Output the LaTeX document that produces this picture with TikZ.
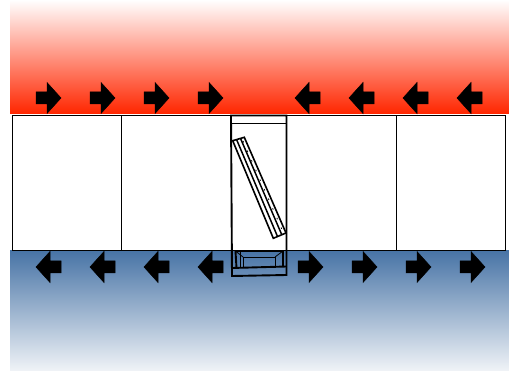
\documentclass[tikz,border=0pt]{standalone}
\definecolor{hotred}{RGB}{255,38,0}
\definecolor{coldblue}{RGB}{72,116,166}
\definecolor{coldpale}{RGB}{240,243,247}
\tikzset{
  wall/.style={draw=black,line width=0.8pt,fill=white},
  heavy/.style={draw=black,line width=1.9pt},
  mid part/.style={draw=black,line width=1.5pt},
  thin part/.style={draw=black,line width=0.8pt},
  flow/.style={fill=black,draw=black,line width=0.5pt,line join=miter},
}
\newcommand{\flowR}[2]{\filldraw[flow] (#1,#2-6) -- (#1+11,#2-6) -- (#1+11,#2-15.5) -- (#1+25,#2) -- (#1+11,#2+15.5) -- (#1+11,#2+6) -- (#1,#2+6) -- cycle;}
\newcommand{\flowL}[2]{\filldraw[flow] (#1,#2-6) -- (#1-11,#2-6) -- (#1-11,#2-15.5) -- (#1-25,#2) -- (#1-11,#2+15.5) -- (#1-11,#2+6) -- (#1,#2+6) -- cycle;}
\begin{document}
\begin{tikzpicture}[x=1pt,y=-1pt]
\useasboundingbox[fill=white] (0,0) rectangle (509,371);
% warm and cold sides
\shade[top color=white,bottom color=hotred] (10,0) rectangle (509,113.5);
\shade[top color=coldblue,bottom color=coldpale] (10,251) rectangle (509,371);
% wall
\draw[wall] (12,115.5) rectangle (505.5,250.5);
\draw[thin part] (121.5,115.5) -- (121.5,250.5);
\draw[thin part] (396,115.5) -- (396,250.5);
% arrows
\foreach \x in {36,90,144,198} {\flowR{\x}{98}\flowL{\x+25}{267}}
\foreach \x in {295,349,403,457} {\flowL{\x+25}{98}}
\foreach \x in {298,352,406,460} {\flowR{\x}{267}}
% central unit
\draw[heavy] (231,115.5) -- (232,276) -- (286.5,275) -- (286.5,115.5) -- cycle;
\draw[heavy] (231,123.5) -- (286.5,123.5);
% tilted panel
\fill[white] (232.7,140.7) -- (244.3,137.3) -- (286,233) -- (273.3,238.3) -- cycle;
\draw[mid part] (236.6,139.6) -- (277.5,236.5);
\draw[mid part] (240.5,138.4) -- (281.8,234.8);
\draw[heavy,line width=1.6pt] (232.7,140.7) -- (244.3,137.3) -- (286,233) -- (273.3,238.3) -- cycle;
\draw[thin part,dash pattern=on 1.5pt off 9pt] (243,141) -- (283.5,233);
% bottom box
\draw[heavy] (235.5,251) -- (236.5,268);
\draw[heavy] (283,251) -- (283,267);
\draw[heavy] (232,268) -- (286.5,266.5);
\draw[thin part] (235.5,251) -- (283,251);
\draw[thin part] (243,257) rectangle (275,267);
\draw[thin part] (235.5,251) -- (243,257);
\draw[thin part] (283,251) -- (275,257);
\draw[thin part] (240,252) -- (240,267);
\end{tikzpicture}
\end{document}
